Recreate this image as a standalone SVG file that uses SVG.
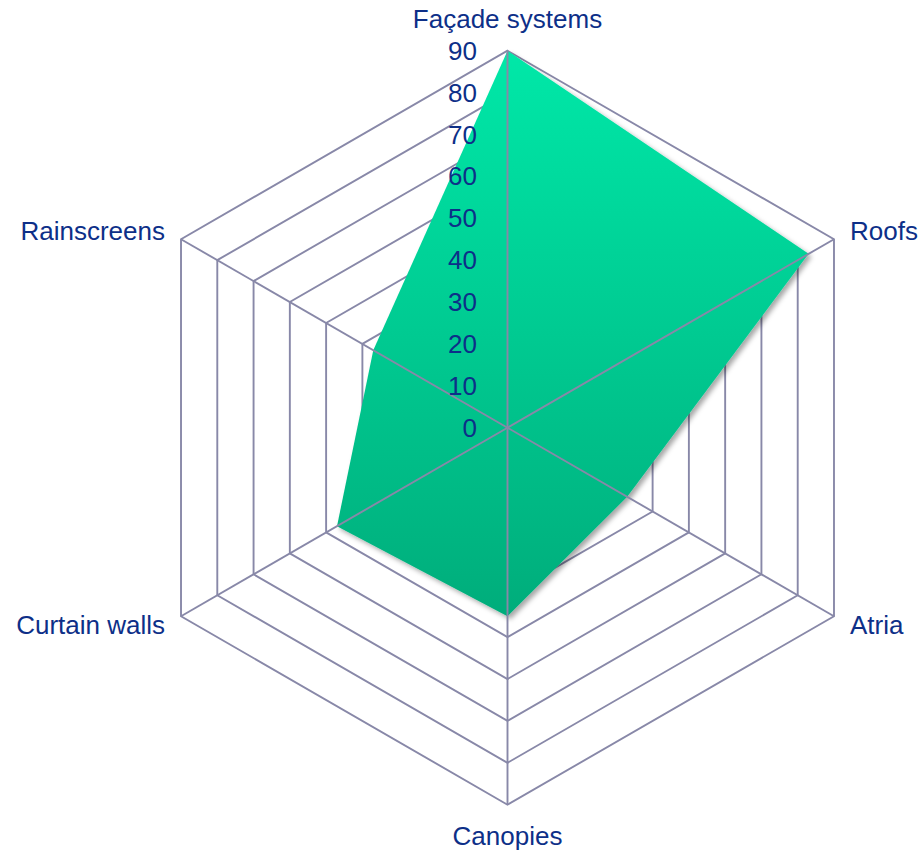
<svg xmlns="http://www.w3.org/2000/svg" width="920" height="854" viewBox="0 0 920 854">
<style>
.ring{fill:none;stroke:#8888A8;stroke-width:1.9}
.spoke{stroke:#8888A8;stroke-width:1.9}
.lbl{font-family:"Liberation Sans",Arial,sans-serif;font-size:26px;fill:#0D2F88}
.num{font-family:"Liberation Sans",Arial,sans-serif;font-size:26px;fill:#0D2F88;text-anchor:end}
</style>
<defs>
<linearGradient id="fillGrad" x1="0" y1="0" x2="0" y2="1">
<stop offset="0" stop-color="#00E8A8"/>
<stop offset="1" stop-color="#00AD7B"/>
</linearGradient>
<filter id="shadow" x="-10%" y="-10%" width="120%" height="120%">
<feDropShadow dx="3" dy="3" stdDeviation="2.5" flood-color="#000" flood-opacity="0.35"/>
</filter>
</defs>
<rect width="920" height="854" fill="#fff"/>
<g id="grid-rings">
<polygon class="ring" points="507.5,385.81 543.78,406.76 543.78,448.64 507.5,469.59 471.22,448.64 471.22,406.76"/>
<polygon class="ring" points="507.5,343.92 580.05,385.81 580.05,469.59 507.5,511.48 434.95,469.59 434.95,385.81"/>
<polygon class="ring" points="507.5,302.03 616.33,364.87 616.33,490.53 507.5,553.37 398.67,490.53 398.67,364.87"/>
<polygon class="ring" points="507.5,260.14 652.61,343.92 652.61,511.48 507.5,595.26 362.39,511.48 362.39,343.92"/>
<polygon class="ring" points="507.5,218.26 688.88,322.98 688.88,532.42 507.5,637.14 326.12,532.42 326.12,322.98"/>
<polygon class="ring" points="507.5,176.37 725.16,302.03 725.16,553.37 507.5,679.03 289.84,553.37 289.84,302.03"/>
<polygon class="ring" points="507.5,134.48 761.43,281.09 761.43,574.31 507.5,720.92 253.57,574.31 253.57,281.09"/>
<polygon class="ring" points="507.5,92.59 797.71,260.14 797.71,595.26 507.5,762.81 217.29,595.26 217.29,260.14"/>
<polygon class="ring" points="507.5,50.7 833.99,239.2 833.99,616.2 507.5,804.7 181.01,616.2 181.01,239.2"/>
</g>
<g id="series">
<polygon points="507.5,50.7 808.6,253.86 627.21,496.82 507.5,616.2 337.0,526.14 373.28,350.2" fill="url(#fillGrad)" filter="url(#shadow)"/>
</g>
<g id="connectors">
<line class="spoke" x1="507.5" y1="427.7" x2="507.5" y2="50.7"/>
<line class="spoke" x1="507.5" y1="427.7" x2="833.99" y2="239.2"/>
<line class="spoke" x1="507.5" y1="427.7" x2="833.99" y2="616.2"/>
<line class="spoke" x1="507.5" y1="427.7" x2="507.5" y2="804.7"/>
<line class="spoke" x1="507.5" y1="427.7" x2="181.01" y2="616.2"/>
<line class="spoke" x1="507.5" y1="427.7" x2="181.01" y2="239.2"/>
</g>
<g id="axis-values">
<text class="num" x="477" y="436.7">0</text>
<text class="num" x="477" y="394.8">10</text>
<text class="num" x="477" y="352.9">20</text>
<text class="num" x="477" y="311.0">30</text>
<text class="num" x="477" y="269.1">40</text>
<text class="num" x="477" y="227.3">50</text>
<text class="num" x="477" y="185.4">60</text>
<text class="num" x="477" y="143.5">70</text>
<text class="num" x="477" y="101.6">80</text>
<text class="num" x="477" y="59.7">90</text>
</g>
<g id="node-facade"><text class="lbl" x="507.5" y="28" text-anchor="middle">Façade systems</text></g>
<g id="node-roofs"><text class="lbl" x="850" y="240">Roofs</text></g>
<g id="node-atria"><text class="lbl" x="850" y="633.5">Atria</text></g>
<g id="node-canopies"><text class="lbl" x="507.5" y="845" text-anchor="middle">Canopies</text></g>
<g id="node-curtain"><text class="lbl" x="165" y="633.5" text-anchor="end">Curtain walls</text></g>
<g id="node-rainscreens"><text class="lbl" x="165" y="240" text-anchor="end">Rainscreens</text></g>
</svg>
